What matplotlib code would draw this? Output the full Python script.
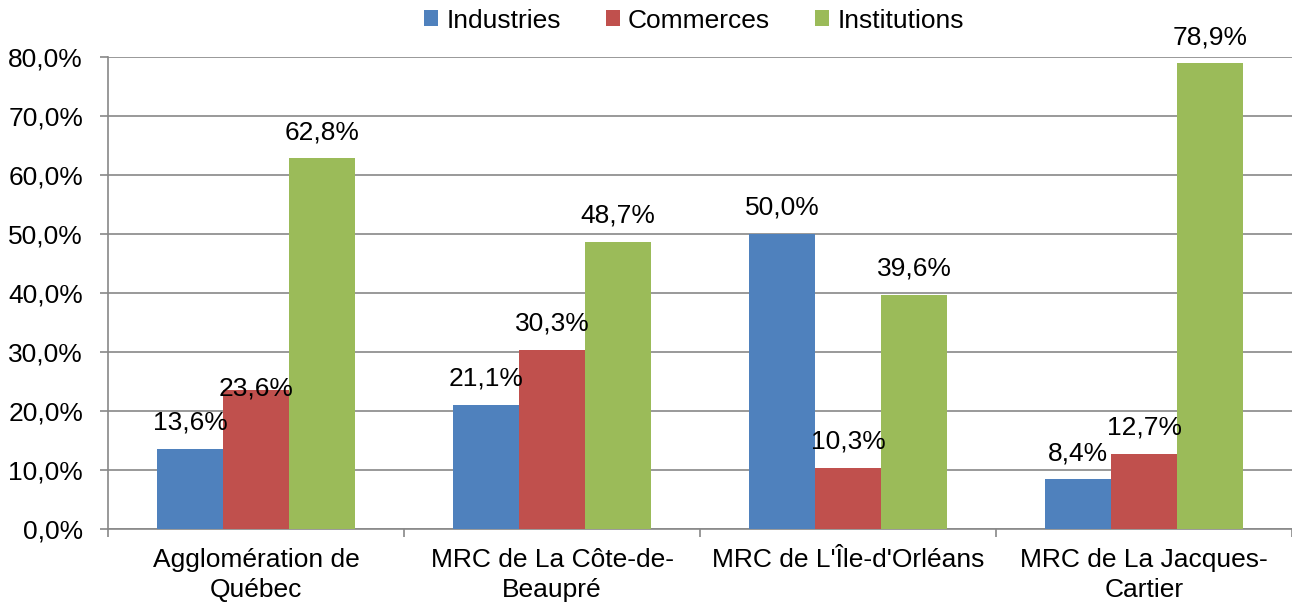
import matplotlib
matplotlib.use("Agg")
import matplotlib.pyplot as plt
from matplotlib.patches import Patch
import numpy as np

categories = ["Agglomération de\nQuébec", "MRC de La Côte-de-\nBeaupré",
              "MRC de L'Île-d'Orléans", "MRC de La Jacques-\nCartier"]
series_names = ["Industries", "Commerces", "Institutions"]
industries = [13.6, 21.1, 50.0, 8.4]
commerces = [23.6, 30.3, 10.3, 12.7]
institutions = [62.8, 48.7, 39.6, 78.9]
yticks = [0, 10, 20, 30, 40, 50, 60, 70, 80]

colors = ["#4F81BD", "#C0504D", "#9BBB59"]
plt.rcParams["font.family"] = ["Liberation Sans", "DejaVu Sans"]
fs = 19

fig = plt.figure(figsize=(12.92, 6.06), dpi=100)
ax = fig.add_axes([0.0836, 0.127, 0.9164, 0.779])

x = np.arange(len(categories))
w = 0.223
values = [industries, commerces, institutions]
for i, (vals, col) in enumerate(zip(values, colors)):
    bars = ax.bar(x + (i - 1) * w, vals, width=w, color=col, zorder=3)
    for j, (b, v) in enumerate(zip(bars, vals)):
        # the 23,6% label sits lower in the original
        off = 1 if (i == 1 and j == 0) else 19
        ax.annotate(f"{v:.1f}%".replace(".", ","),
                    (b.get_x() + b.get_width() / 2, v),
                    xytext=(0, off), textcoords="offset points",
                    ha="center", va="center", fontsize=fs, zorder=4)

ax.set_ylim(0, 80)
ax.set_xlim(-0.5, len(categories) - 0.5)
ax.set_yticks(yticks)
ax.set_yticklabels([f"{t:.1f}%".replace(".", ",") for t in yticks], fontsize=fs)
ax.yaxis.grid(True, color="#888888", linewidth=1.2, zorder=0)

ax.set_xticks(x)
ax.set_xticklabels(categories, fontsize=fs, linespacing=1.3)
ax.tick_params(axis="x", length=0, pad=14)
ax.set_xticks(np.arange(len(categories) + 1) - 0.5, minor=True)
ax.tick_params(axis="x", which="minor", length=6, color="#888888", width=1.2)
ax.tick_params(axis="y", length=6, color="#888888", width=1.2, pad=12)

for s in ["top", "right"]:
    ax.spines[s].set_visible(False)
for s in ["left", "bottom"]:
    ax.spines[s].set_color("#888888")
    ax.spines[s].set_linewidth(1.2)

handles = [Patch(facecolor=c, label=n) for c, n in zip(colors, series_names)]
fig.legend(handles=handles, loc="center", bbox_to_anchor=(0.537, 0.966), ncol=3,
           frameon=False, fontsize=fs, handlelength=0.55, handleheight=0.55,
           handletextpad=0.3, columnspacing=1.7)

fig.savefig("out.png", dpi=100)
